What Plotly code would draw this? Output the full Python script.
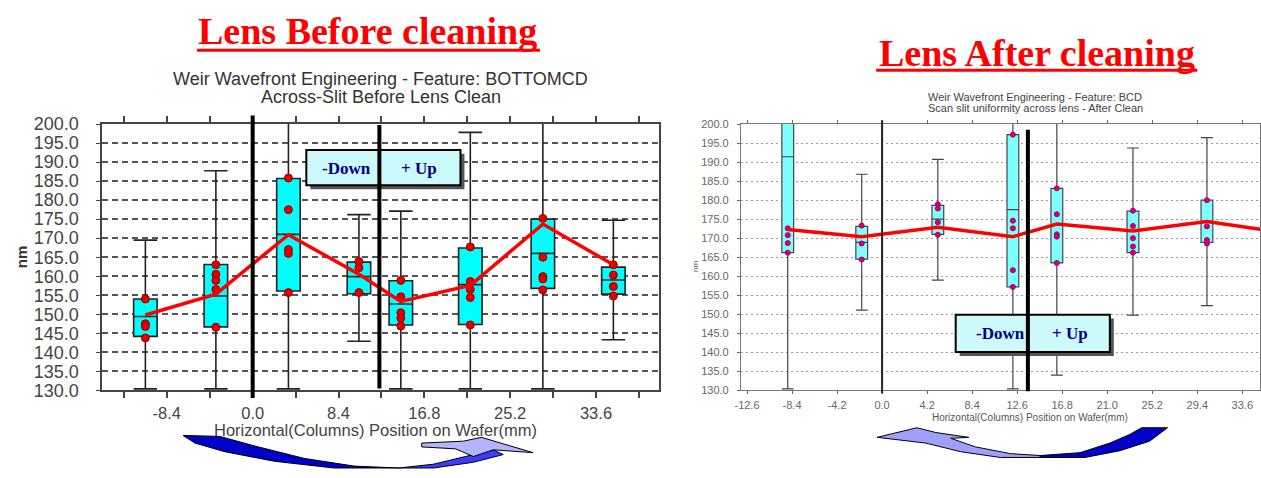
import plotly.graph_objects as go

W, H = 1261, 478

# ---------------- Lens before cleaning ----------------
before_pos = [-10.5, -3.6, 3.5, 10.4, 14.5, 21.3, 28.4, 35.3]
before_q1 = [144.2, 146.7, 156.1, 155.4, 147.2, 147.3, 156.8, 155.3]
before_median = [149.4, 154.8, 171.0, 159.9, 152.7, 157.8, 166.0, 159.0]
before_q3 = [154.0, 163.1, 185.7, 163.7, 158.8, 167.4, 175.0, 162.4]
before_low = [130.4, 130.4, 130.4, 142.9, 130.4, 130.4, 130.4, 143.3]
before_high = [169.5, 187.7, 205.0, 176.2, 177.1, 197.8, 205.0, 174.7]
before_points = [
    [154.0, 147.5, 146.8, 143.8],
    [163.0, 160.5, 158.9, 156.5, 146.6],
    [185.8, 177.5, 167.0, 166.0, 155.7],
    [163.9, 162.2, 155.7],
    [158.9, 154.6, 150.4, 149.0, 146.9],
    [167.7, 158.6, 156.5, 154.4, 147.2],
    [175.2, 165.0, 159.9, 159.3, 156.4],
    [163.0, 160.3, 157.3, 154.8],
]
before_mean = [149.8, 155.3, 170.9, 160.5, 153.4, 157.6, 173.7, 163.0]
before_center = 12.4
before_xticks = [-12.6, -8.4, -4.2, 0.0, 4.2, 8.4, 12.6, 16.8, 21.0, 25.2, 29.4, 33.6, 37.8]
before_xlabels = ["", "-8.4", "", "0.0", "", "8.4", "", "16.8", "", "25.2", "", "33.6", ""]

# ---------------- Lens after cleaning ----------------
after_pos = [-8.8, -1.9, 5.2, 12.2, 16.3, 23.4, 30.3]
after_q1 = [166.2, 164.5, 171.0, 157.2, 163.5, 166.2, 168.9]
after_median = [191.4, 168.9, 175.0, 177.5, 173.6, 171.8, 174.4]
after_q3 = [205.0, 173.1, 178.6, 197.2, 183.1, 177.1, 180.0]
after_low = [130.4, 151.1, 159.0, 130.4, 134.0, 149.8, 152.3]
after_high = [210.0, 186.8, 190.7, 205.0, 205.0, 193.7, 196.4]
after_points = [
    [172.6, 170.8, 168.7, 166.2],
    [173.3, 168.6, 164.4],
    [178.9, 177.8, 174.2, 170.9],
    [197.2, 174.6, 172.6, 161.6, 157.2],
    [183.1, 176.3, 171.0, 170.4, 163.5],
    [177.2, 173.2, 170.0, 167.8, 166.2],
    [180.0, 173.1, 169.5, 168.6],
]
after_mean_pos = [-8.8, -1.9, 5.2, 12.2, 16.3, 23.4, 30.3, 37.3]
after_mean = [172.3, 170.4, 172.9, 170.4, 173.7, 171.9, 174.4, 171.5]
after_center = 13.6
after_xticks = [-12.6, -8.4, -4.2, 0.0, 4.2, 8.4, 12.6, 16.8, 21.0, 25.2, 29.4, 33.6]
after_xlabels = ["-12.6", "-8.4", "-4.2", "0.0", "4.2", "8.4", "12.6", "16.8", "21.0", "25.2", "29.4", "33.6"]

y_ticks = [130 + 5 * k for k in range(15)]


def px(x):
    return x / W


def py(y):
    return 1 - y / H


def path(points):
    """Closed SVG path in paper coordinates from pixel-space points."""
    s = "M " + " L ".join(f"{px(a):.5f},{py(b):.5f}" for a, b in points)
    return s + " Z"


def flatten(pos, pts):
    xs, ys = [], []
    for p, vals in zip(pos, pts):
        xs += [p] * len(vals)
        ys += vals
    return xs, ys


fig = go.Figure()

# Before: boxes, sample points, mean line
fig.add_trace(go.Box(
    x=before_pos, q1=before_q1, median=before_median, q3=before_q3,
    lowerfence=before_low, upperfence=before_high,
    width=2.3, whiskerwidth=1, fillcolor="#00ffff",
    line=dict(color="#222222", width=1.6), boxpoints=False,
    xaxis="x", yaxis="y", showlegend=False, hoverinfo="skip"))
bx, by = flatten(before_pos, before_points)
fig.add_trace(go.Scatter(
    x=bx, y=by, mode="markers", xaxis="x", yaxis="y",
    marker=dict(color="#e00000", size=8, line=dict(color="#990000", width=1)),
    showlegend=False, hoverinfo="skip"))
fig.add_trace(go.Scatter(
    x=before_pos, y=before_mean, mode="lines", xaxis="x", yaxis="y",
    line=dict(color="#ff0000", width=3.5), showlegend=False, hoverinfo="skip"))

# After: boxes, sample points, mean line
fig.add_trace(go.Box(
    x=after_pos, q1=after_q1, median=after_median, q3=after_q3,
    lowerfence=after_low, upperfence=after_high,
    width=1.1, whiskerwidth=1, fillcolor="#80ffff",
    line=dict(color="#444444", width=1.2), boxpoints=False,
    xaxis="x2", yaxis="y2", showlegend=False, hoverinfo="skip"))
ax, ay = flatten(after_pos, after_points)
fig.add_trace(go.Scatter(
    x=ax, y=ay, mode="markers", xaxis="x2", yaxis="y2",
    marker=dict(color="#ee0033", size=5, line=dict(color="#8800aa", width=1)),
    showlegend=False, hoverinfo="skip"))
fig.add_trace(go.Scatter(
    x=after_mean_pos, y=after_mean, mode="lines", xaxis="x2", yaxis="y2",
    line=dict(color="#ff0000", width=3.5), showlegend=False, hoverinfo="skip"))

axis_font = "Liberation Sans, Arial, sans-serif"

fig.update_layout(
    width=W, height=H,
    margin=dict(l=0, r=0, t=0, b=0),
    paper_bgcolor="white", plot_bgcolor="white",
    showlegend=False,
    xaxis=dict(
        domain=[px(97), px(657)], range=[-14.7, 39.8],
        tickvals=before_xticks, ticktext=before_xlabels,
        ticks="outside", ticklen=6, tickwidth=1.5, tickcolor="#444",
        showline=True, linecolor="#444", linewidth=2, mirror="ticks",
        showgrid=False, zeroline=False, ticklabelstandoff=1,
        tickfont=dict(family=axis_font, size=16.5, color="#444"),
        anchor="y"),
    yaxis=dict(
        domain=[py(397), py(119)], range=[130, 200],
        tickvals=y_ticks, tickformat=".1f",
        ticks="outside", ticklen=4, tickcolor="#444",
        showline=True, linecolor="#444", linewidth=2, mirror=True,
        showgrid=True, gridcolor="#555", gridwidth=1.5, griddash="6px,4px",
        zeroline=False, ticklabelstandoff=14,
        tickfont=dict(family=axis_font, size=18, color="#444"),
        anchor="x"),
    xaxis2=dict(
        domain=[px(739), 1.0], range=[-13.17, 35.25],
        tickvals=after_xticks, ticktext=after_xlabels,
        ticks="outside", ticklen=3, tickcolor="#666",
        showline=True, linecolor="#777", linewidth=1, mirror="ticks",
        showgrid=False, zeroline=False, ticklabelstandoff=1,
        tickfont=dict(family=axis_font, size=11, color="#666"),
        anchor="y2"),
    yaxis2=dict(
        domain=[py(397), py(119)], range=[130, 200],
        tickvals=y_ticks, tickformat=".1f",
        ticks="outside", ticklen=3, tickcolor="#666",
        showline=True, linecolor="#777", linewidth=1, mirror=True,
        showgrid=True, gridcolor="#999", gridwidth=1, griddash="2px,3px",
        zeroline=False, ticklabelstandoff=6,
        tickfont=dict(family=axis_font, size=11, color="#666"),
        anchor="x2"),
)

shapes = []
# "-Down / + Up" boxes with drop shadow
for (x0, y0, x1, y1) in [(302, 146, 457, 183), (955, 318, 1110, 357)]:
    shapes.append(dict(type="rect", xref="paper", yref="paper",
                       x0=px(x0 + 4), x1=px(x1 + 4), y0=py(y1 + 4), y1=py(y0 + 4),
                       fillcolor="#555555", line=dict(width=0)))
    shapes.append(dict(type="rect", xref="paper", yref="paper",
                       x0=px(x0), x1=px(x1), y0=py(y1), y1=py(y0),
                       fillcolor="#ccfafa", line=dict(color="black", width=2)))

# Reference lines: wafer zero and lens centre
shapes += [
    dict(type="line", xref="x", yref="paper", x0=0, x1=0, y0=py(405), y1=py(110),
         line=dict(color="black", width=4)),
    dict(type="line", xref="x", yref="paper", x0=before_center, x1=before_center,
         y0=py(395), y1=py(120), line=dict(color="black", width=4)),
    dict(type="line", xref="x2", yref="paper", x0=0, x1=0, y0=py(400), y1=py(115),
         line=dict(color="#222", width=2)),
    dict(type="line", xref="x2", yref="paper", x0=after_center, x1=after_center,
         y0=py(398), y1=py(125), line=dict(color="black", width=4)),
]

# Title underlines
shapes += [
    dict(type="line", xref="paper", yref="paper", x0=px(192), x1=px(537),
         y0=py(42), y1=py(42), line=dict(color="#ff0000", width=3)),
    dict(type="line", xref="paper", yref="paper", x0=px(875), x1=px(1198),
         y0=py(63), y1=py(63), line=dict(color="#ff0000", width=3)),
]

# Curved direction arrows under each chart
arrow_line = dict(color="black", width=1)
shapes += [
    dict(type="path", xref="paper", yref="paper", fillcolor="#0000c8", line=arrow_line,
         path=path([(178, 444), (215, 445), (250, 455), (300, 468), (350, 476),
                    (395, 478), (330, 478), (270, 471), (220, 461), (190, 452)])),
    dict(type="path", xref="paper", yref="paper", fillcolor="#3c3cff", line=arrow_line,
         path=path([(395, 478), (430, 474), (462, 466), (490, 459), (500, 464),
                    (470, 472), (430, 478)])),
    dict(type="path", xref="paper", yref="paper", fillcolor="#b4b4ff", line=arrow_line,
         path=path([(418, 452), (460, 450), (478, 446), (530, 462), (490, 459),
                    (470, 466), (452, 458), (418, 456)])),
    dict(type="path", xref="paper", yref="paper", fillcolor="#a0a0ff", line=arrow_line,
         path=path([(876, 446), (916, 436), (935, 441), (968, 446), (950, 447),
                    (975, 456), (1010, 463), (1040, 465), (1040, 467), (1000, 467),
                    (960, 461), (925, 452)])),
    dict(type="path", xref="paper", yref="paper", fillcolor="#0000c8", line=arrow_line,
         path=path([(1040, 465), (1080, 462), (1110, 452), (1130, 443), (1142, 436),
                    (1168, 436), (1150, 450), (1120, 460), (1085, 467), (1040, 467)])),
]

fig.update_layout(shapes=shapes)

title_font = "Liberation Serif, Times New Roman, serif"
ann = []


def note(text, x, y, size, color, family=axis_font, angle=0):
    ann.append(dict(text=text, xref="paper", yref="paper", x=px(x), y=py(y),
                    xanchor="center", yanchor="middle", showarrow=False,
                    textangle=angle, font=dict(family=family, size=size, color=color)))


note("<b>Lens Before cleaning</b>", 364, 22, 38, "#ff0000", title_font)
note("<b>Lens After cleaning</b>", 1037, 45, 38, "#ff0000", title_font)
note("Weir Wavefront Engineering - Feature: BOTTOMCD", 377, 72, 18, "#333")
note("Across-Slit Before Lens Clean", 377, 91, 18, "#333")
note("Weir Wavefront Engineering - Feature: BCD", 1035, 91, 11, "#444")
note("Scan slit uniformity across lens - After Clean", 1035, 102, 11, "#444")
note("Horizontal(Columns) Position on Wafer(mm)", 372, 438, 16.5, "#444")
note("Horizontal(Columns) Position on Wafer(mm)", 1030, 425, 10, "#555")
note("<b>nm</b>", 15, 257, 15, "#333", angle=-90)
note("nm", 694, 268, 8, "#555", angle=-90)
for cx, cy in [(342, 165), (1000, 338)]:
    note("<b>-Down</b>", cx, cy, 17, "#000080", title_font)
for cx, cy in [(415, 165), (1070, 338)]:
    note("<b>+ Up</b>", cx, cy, 17, "#000080", title_font)

fig.update_layout(annotations=ann)

fig.write_html("out.html")
